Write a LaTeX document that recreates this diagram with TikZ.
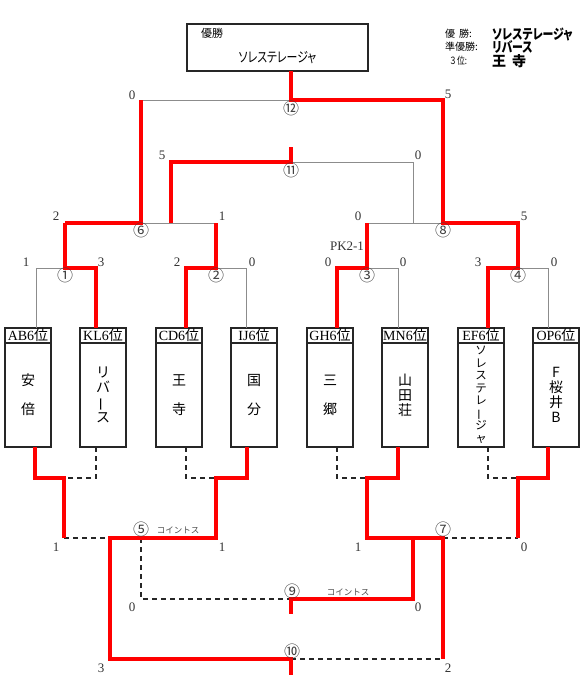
\documentclass[tikz,border=0pt]{standalone}
\usepackage{fontspec}
\usepackage{graphicx}
\setmainfont{Liberation Serif}
\newfontfamily\cjk{Noto Sans CJK JP}
\newfontfamily\cjkp[RawFeature=+palt]{Noto Sans CJK JP}
\newcommand\tatebo{\rotatebox[origin=c]{90}{ー}}
\newcommand\narrow[1]{\scalebox{0.78}[1]{#1}}
\begin{document}
\begin{tikzpicture}[x=1pt,y=-1pt,
  win/.style={red, line width=3.2pt},
  lose/.style={black!45, line width=0.8pt},
  toss/.style={black!85, line width=1.6pt, dash pattern=on 5pt off 4pt},
  frame/.style={draw=black!85, line width=1.3pt, inner sep=0pt, outer sep=0pt},
  hdr/.style={frame, minimum width=46pt, minimum height=15pt, font=\fontsize{14}{14}\selectfont},
  body/.style={frame, minimum width=46pt, minimum height=104pt, align=center, anchor=north},
  two/.style={font=\cjk\fontsize{14}{29}\selectfont},
  four/.style={font=\cjk\fontsize{14}{15}\selectfont},
  eight/.style={font=\cjk\fontsize{11.5}{12.5}\selectfont},
  score/.style={font=\fontsize{13}{13}\selectfont, text=black!80, inner sep=0pt},
  mno/.style={font=\cjk\fontsize{16}{16}\selectfont, text=black!75, inner sep=0pt},
  toin/.style={font=\cjk\fontsize{8.5}{8.5}\selectfont, text=black!70, inner sep=0pt},
  lglab/.style={anchor=west, inner sep=0pt, font=\cjk\fontsize{10}{10}\selectfont},
  lgname/.style={anchor=west, inner sep=0pt, font=\cjkp\bfseries\fontsize{14}{14}\selectfont},
]
\useasboundingbox (0,0) rectangle (585,690);

% champion box and legend
\node[frame, minimum width=181pt, minimum height=47pt] (champ) at (277.5,47.5) {};
\node[inner sep=0pt, font=\cjk\fontsize{11}{11}\selectfont] (champlab) at (212,33) {優勝};
\node[inner sep=0pt, font=\cjkp\fontsize{14}{14}\selectfont] (champname) at (277.5,58) {\narrow{ソレステレージャ}};
\node[lglab] (lg1) at (445,34) {優\hspace{4pt}勝:};
\node[lglab] (lg2) at (445,47) {準優勝:};
\node[lglab] (lg3) at (449,61) {\narrow{３位:}};
\node[lgname] (lw1) at (492,34) {\narrow{ソレステレージャ}};
\node[lgname] (lw2) at (492,47) {\narrow{リバース}};
\node[lgname] (lw3) at (492,61) {王\hspace{6pt}寺};

% team boxes
\node[hdr] (h1) at (28,335.5) {AB6{\cjk 位}};
\node[hdr] (h2) at (103,335.5) {KL6{\cjk 位}};
\node[hdr] (h3) at (179,335.5) {CD6{\cjk 位}};
\node[hdr] (h4) at (254,335.5) {IJ6{\cjk 位}};
\node[hdr] (h5) at (330,335.5) {GH6{\cjk 位}};
\node[hdr] (h6) at (405,335.5) {MN6{\cjk 位}};
\node[hdr] (h7) at (481,335.5) {EF6{\cjk 位}};
\node[hdr] (h8) at (556,335.5) {OP6{\cjk 位}};
\node[body, two] (n1) at (h1.south) {安\\倍};
\node[body, four] (n2) at (h2.south) {リ\\バ\\\tatebo\\ス};
\node[body, two] (n3) at (h3.south) {王\\寺};
\node[body, two] (n4) at (h4.south) {国\\分};
\node[body, two] (n5) at (h5.south) {三\\郷};
\node[body, four] (n6) at (h6.south) {山\\田\\荘};
\node[body, eight] (n7) at (h7.south) {ソ\\レ\\ス\\テ\\レ\\\tatebo\\ジ\\ャ};
\node[body, four] (n8) at (h8.south) {F\\桜\\井\\B};

% attach points
\coordinate (t1) at (36,328);  \coordinate (t2) at (96,328);
\coordinate (t3) at (186,328); \coordinate (t4) at (246,328);
\coordinate (t5) at (337,328); \coordinate (t6) at (398,328);
\coordinate (t7) at (488,328); \coordinate (t8) at (548,328);
\coordinate (b1) at (35,447);  \coordinate (b2) at (96,447);
\coordinate (b3) at (186,447); \coordinate (b4) at (247,447);
\coordinate (b5) at (337,447); \coordinate (b6) at (398,447);
\coordinate (b7) at (488,447); \coordinate (b8) at (548,447);

% upper bracket junctions
\coordinate (m1l) at (36,268);  \coordinate (m1) at (65,268);  \coordinate (m1r) at (96,268);
\coordinate (m2l) at (186,268); \coordinate (m2) at (216,268); \coordinate (m2r) at (246,268);
\coordinate (m3l) at (337,268); \coordinate (m3) at (367,268); \coordinate (m3r) at (398,268);
\coordinate (m4l) at (488,268); \coordinate (m4) at (518,268); \coordinate (m4r) at (548,268);
\coordinate (m6l) at (65,223);  \coordinate (m6) at (141,223); \coordinate (m6x) at (171,223); \coordinate (m6r) at (216,223);
\coordinate (m8l) at (367,223); \coordinate (m8x) at (413,223); \coordinate (m8) at (443,223); \coordinate (m8r) at (518,223);
\coordinate (m11l) at (171,162); \coordinate (m11) at (291,162); \coordinate (m11r) at (413,162); \coordinate (m11t) at (291,147);
\coordinate (m12l) at (141,100); \coordinate (m12) at (291,100); \coordinate (m12r) at (443,100);

% lower bracket junctions
\coordinate (c1l) at (35,478);  \coordinate (c1) at (64,478);  \coordinate (c1r) at (96,478);
\coordinate (c2l) at (186,478); \coordinate (c2) at (216,478); \coordinate (c2r) at (247,478);
\coordinate (c3l) at (337,478); \coordinate (c3) at (367,478); \coordinate (c3r) at (398,478);
\coordinate (c4l) at (488,478); \coordinate (c4) at (518,478); \coordinate (c4r) at (548,478);
\coordinate (m5l) at (64,538);  \coordinate (m5) at (110,538); \coordinate (m5c) at (141,538); \coordinate (m5r) at (216,538);
\coordinate (m7l) at (367,538); \coordinate (m7x) at (413,538); \coordinate (m7) at (443,538); \coordinate (m7r) at (518,538);
\coordinate (m9l) at (141,599); \coordinate (m9) at (291,599); \coordinate (m9r) at (413,599); \coordinate (m9d) at (291,614);
\coordinate (m10l) at (110,659); \coordinate (m10) at (291,659); \coordinate (m10r) at (443,659); \coordinate (m10d) at (291,675);

% losing (gray) lines
\draw[lose] (t1) -- (m1l) -- (m1);
\draw[lose] (t4) -- (m2r) -- (m2);
\draw[lose] (t6) -- (m3r) -- (m3);
\draw[lose] (t8) -- (m4r) -- (m4);
\draw[lose] (m6) -- (m6r);
\draw[lose] (m8l) -- (m8);
\draw[lose] (m8x) -- (m11r) -- (m11);
\draw[lose] (m12l) -- (m12);

% coin-toss / dashed lines
\draw[toss] (b2) -- (c1r) -- (c1);
\draw[toss] (b3) -- (c2l) -- (c2);
\draw[toss] (b5) -- (c3l) -- (c3);
\draw[toss] (b7) -- (c4l) -- (c4);
\draw[toss] (m5l) -- (m5);
\draw[toss] (m5c) -- (m9l) -- (m9);
\draw[toss] (m7) -- (m7r);
\draw[toss] (m10) -- (m10r);

% winning (red) lines
\draw[win] (t2) -- (m1r) -- (m1) -- (m6l);
\draw[win] (t3) -- (m2l) -- (m2) -- (m6r);
\draw[win] (t5) -- (m3l) -- (m3) -- (m8l);
\draw[win] (t7) -- (m4l) -- (m4) -- (m8r) -- (m8) -- (m12r) -- (m12) -- (champ.south -| m12);
\draw[win] (m6l) -- (m6) -- (m12l);
\draw[win] (m6x) -- (m11l) -- (m11) -- (m11t);
\draw[win] (b1) -- (c1l) -- (c1) -- (m5l);
\draw[win] (b4) -- (c2r) -- (c2) -- (m5r) -- (m5) -- (m10l) -- (m10) -- (m10d);
\draw[win] (b6) -- (c3r) -- (c3) -- (m7l) -- (m7) -- (m10r);
\draw[win] (m7x) -- (m9r) -- (m9) -- (m9d);
\draw[win] (b8) -- (c4r) -- (c4) -- (m7r);

% match numbers
\node[mno] (k1) at (65,275) {①};
\node[mno] (k2) at (216,275) {②};
\node[mno] (k3) at (367,275) {③};
\node[mno] (k4) at (518,275) {④};
\node[mno] (k5) at (141,529) {⑤};
\node[mno] (k6) at (141,230) {⑥};
\node[mno] (k7) at (443,529) {⑦};
\node[mno] (k8) at (443,230) {⑧};
\node[mno] (k9) at (292,591) {⑨};
\node[mno] (k10) at (292,651) {⑩};
\node[mno] (k11) at (291,170) {⑪};
\node[mno] (k12) at (291,108) {⑫};

% scores
\node[score] (s12l) at (132,95) {0};
\node[score] (s12r) at (448,94) {5};
\node[score] (s11l) at (162,155) {5};
\node[score] (s11r) at (418,155) {0};
\node[score] (s6l) at (56,216) {2};
\node[score] (s6r) at (222,216) {1};
\node[score] (s8l) at (358,216) {0};
\node[score] (s8r) at (524,216) {5};
\node[score] (pk) at (347,246) {PK2-1};
\node[score] (s1l) at (26,262) {1};
\node[score] (s1r) at (101,262) {3};
\node[score] (s2l) at (177,262) {2};
\node[score] (s2r) at (252,262) {0};
\node[score] (s3l) at (328,262) {0};
\node[score] (s3r) at (403,262) {0};
\node[score] (s4l) at (478,262) {3};
\node[score] (s4r) at (554,262) {0};
\node[score] (s5l) at (56,547) {1};
\node[score] (s5r) at (222,547) {1};
\node[score] (s7l) at (358,547) {1};
\node[score] (s7r) at (524,547) {0};
\node[score] (s9l) at (132,607) {0};
\node[score] (s9r) at (418,607) {0};
\node[score] (s10l) at (101,668) {3};
\node[score] (s10r) at (448,668) {2};
\node[toin] (ct5) at (178,530) {コイントス};
\node[toin] (ct9) at (348,592) {コイントス};
\end{tikzpicture}
\end{document}
